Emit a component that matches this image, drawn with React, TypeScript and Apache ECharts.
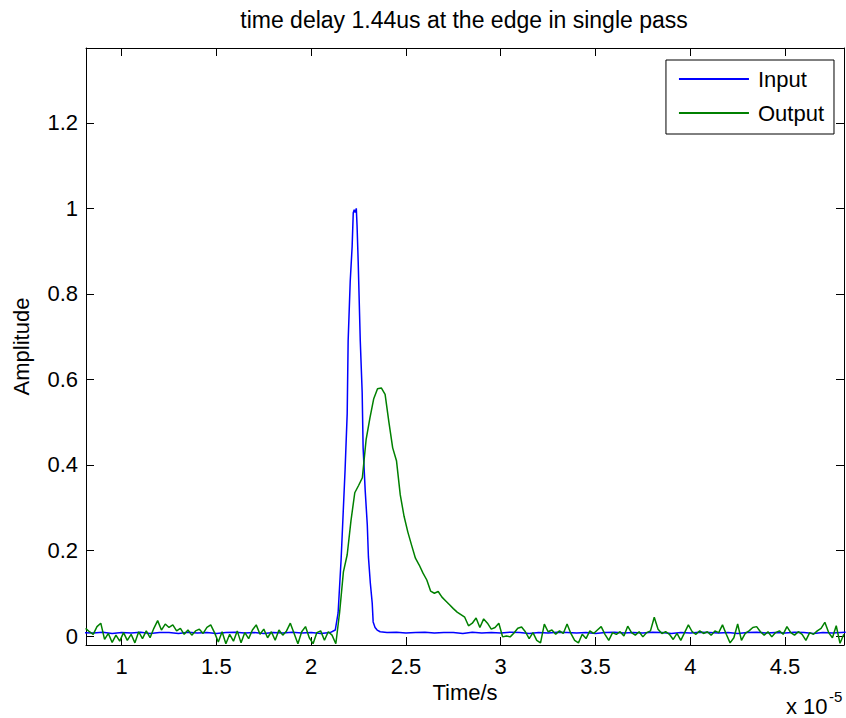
import React, { useEffect, useRef } from "react";
import * as echarts from "echarts";

// ---- data (time in units of 1e-5 s) ----
const titleText = "time delay 1.44us at the edge in single pass";
const xTickValues = [1, 1.5, 2, 2.5, 3, 3.5, 4, 4.5];
const yTickValues = [0, 0.2, 0.4, 0.6, 0.8, 1, 1.2];
const xMin = 0.812;
const xMax = 4.811;
const yMin = -0.021;
const yMax = 1.375;

// Input pulse samples [time, amplitude]
const inputPoints: [number, number][] = [
  [0.80, 0.008], [0.85, 0.007], [0.90, 0.009], [0.95, 0.006], [1.00, 0.008],
  [1.05, 0.007], [1.10, 0.009], [1.15, 0.006], [1.20, 0.008], [1.25, 0.008],
  [1.30, 0.006], [1.35, 0.009], [1.40, 0.007], [1.45, 0.008], [1.50, 0.006],
  [1.55, 0.008], [1.60, 0.009], [1.65, 0.007], [1.70, 0.008], [1.75, 0.006],
  [1.80, 0.008], [1.85, 0.007], [1.90, 0.009], [1.95, 0.007], [2.00, 0.008],
  [2.05, 0.006], [2.10, 0.008], [2.127, 0.014], [2.142, 0.054], [2.158, 0.18],
  [2.169, 0.29], [2.179, 0.39], [2.19, 0.52], [2.195, 0.69], [2.206, 0.83],
  [2.216, 0.91], [2.222, 0.99], [2.227, 0.997], [2.232, 0.99], [2.238, 1.0],
  [2.242, 0.96], [2.248, 0.875], [2.259, 0.69], [2.269, 0.57], [2.274, 0.44],
  [2.285, 0.34], [2.296, 0.26], [2.302, 0.185], [2.312, 0.124], [2.322, 0.077],
  [2.327, 0.033], [2.337, 0.02], [2.348, 0.014], [2.364, 0.01], [2.40, 0.008],
  [2.45, 0.009], [2.50, 0.007], [2.55, 0.008], [2.60, 0.009], [2.65, 0.007],
  [2.70, 0.008], [2.75, 0.008], [2.80, 0.006], [2.85, 0.009], [2.90, 0.007],
  [2.95, 0.008], [3.00, 0.007], [3.05, 0.009], [3.10, 0.008], [3.15, 0.006],
  [3.20, 0.008], [3.25, 0.007], [3.30, 0.009], [3.35, 0.008], [3.40, 0.007],
  [3.45, 0.008], [3.50, 0.006], [3.55, 0.008], [3.60, 0.009], [3.65, 0.007],
  [3.70, 0.008], [3.75, 0.007], [3.80, 0.009], [3.85, 0.008], [3.90, 0.006],
  [3.95, 0.008], [4.00, 0.007], [4.05, 0.009], [4.10, 0.008], [4.15, 0.007],
  [4.20, 0.008], [4.25, 0.006], [4.30, 0.008], [4.35, 0.009], [4.40, 0.007],
  [4.45, 0.008], [4.50, 0.007], [4.55, 0.009], [4.60, 0.008], [4.65, 0.006],
  [4.70, 0.008], [4.75, 0.007], [4.82, 0.009],
];

// Output pulse: uniform sampling starting at outputT0 with step outputDt
const outputT0 = 0.81;
const outputDt = 0.02;
const outputAmp: number[] = [
  /* 0.81 */ 0.018, 0.010, 0.004, 0.022, 0.030, -0.008, 0.006, -0.015, 0.002, -0.012,
  /* 1.01 */ 0.008, -0.010, 0.004, -0.016, 0.010, -0.006, 0.012, -0.004, 0.018, 0.036,
  /* 1.21 */ 0.014, 0.028, 0.020, 0.026, 0.012, 0.018, 0.004, 0.014, 0.002, 0.012,
  /* 1.41 */ 0.016, 0.006, 0.020, 0.026, 0.008, -0.014, 0.010, -0.018, 0.004, -0.012,
  /* 1.61 */ 0.012, -0.016, 0.008, -0.006, 0.014, 0.026, 0.004, 0.016, -0.004, 0.010,
  /* 1.81 */ -0.010, 0.014, 0.002, 0.012, 0.030, 0.006, -0.018, 0.010, 0.022, -0.004,
  /* 2.01 */ -0.018, 0.008, 0.012, -0.010, 0.010, 0.002, -0.018, 0.055, 0.15, 0.19,
  /* 2.21 */ 0.27, 0.335, 0.352, 0.37, 0.46, 0.51, 0.555, 0.578, 0.58, 0.565,
  /* 2.41 */ 0.50, 0.44, 0.41, 0.33, 0.28, 0.243, 0.212, 0.182, 0.166, 0.147,
  /* 2.61 */ 0.131, 0.105, 0.100, 0.104, 0.091, 0.082, 0.073, 0.064, 0.056, 0.050,
  /* 2.81 */ 0.044, 0.024, 0.030, 0.042, 0.020, 0.040, 0.030, 0.016, 0.020, 0.030,
  /* 3.01 */ -0.002, 0.000, -0.002, 0.007, 0.018, 0.021, 0.010, -0.006, 0.008, -0.010,
  /* 3.21 */ -0.016, 0.028, 0.010, 0.014, 0.004, 0.012, 0.006, 0.028, 0.006, -0.010,
  /* 3.41 */ -0.016, 0.004, -0.006, 0.012, 0.006, 0.014, 0.022, 0.004, -0.010, 0.008,
  /* 3.61 */ 0.004, 0.010, 0.000, 0.023, 0.008, 0.002, 0.010, -0.002, 0.008, 0.012,
  /* 3.81 */ 0.044, 0.016, 0.006, 0.010, 0.004, -0.008, 0.006, -0.010, 0.008, 0.026,
  /* 4.01 */ 0.010, 0.004, 0.012, 0.006, 0.010, 0.002, 0.012, 0.008, 0.026, 0.004,
  /* 4.21 */ -0.016, -0.004, 0.028, -0.010, 0.006, 0.012, 0.020, 0.022, 0.010, 0.002,
  /* 4.41 */ 0.010, -0.002, 0.008, 0.012, 0.004, 0.022, 0.008, 0.002, 0.010, 0.004,
  /* 4.61 */ -0.010, 0.008, 0.004, 0.012, 0.018, 0.032, 0.008, -0.004, 0.024, -0.017,
  /* 4.81 */ 0.004,
];

const FONT = "'Liberation Sans', Arial, sans-serif";
const FS = 22;

export default function App() {
  const ref = useRef<HTMLDivElement>(null);
  useEffect(() => {
    if (!ref.current) return;
    const chart = echarts.init(ref.current, undefined, { renderer: "svg" });
    const outputPoints = outputAmp.map((v, i) => [
      +(outputT0 + i * outputDt).toFixed(3),
      v,
    ]);
    const axisLineStyle = { show: true, onZero: false, lineStyle: { color: "#000", width: 1 } };
    const textBase = { color: "#000", fontFamily: FONT, fontSize: FS };
    chart.setOption({
      animation: false,
      backgroundColor: "#fff",
      title: {
        text: titleText,
        left: 464,
        top: 8,
        textAlign: "center",
        padding: 0,
        textStyle: { ...textBase, fontSize: 23, fontWeight: "normal" },
      },
      legend: {
        orient: "vertical",
        right: 12,
        top: 60,
        icon: "rect",
        itemWidth: 70,
        itemHeight: 2,
        itemGap: 12,
        padding: [8, 10, 10, 13],
        borderColor: "#000",
        borderWidth: 1,
        backgroundColor: "#fff",
        textStyle: { ...textBase, padding: [0, 0, 0, 4] },
        data: ["Input", "Output"],
      },
      grid: { left: 86, right: 2, top: 48, bottom: 73, containLabel: false },
      xAxis: [
        {
          type: "value",
          position: "bottom",
          min: xMin,
          max: xMax,
          name: "Time/s",
          nameLocation: "middle",
          nameGap: 36,
          nameTextStyle: textBase,
          axisLine: axisLineStyle,
          axisTick: { show: true, inside: true, length: 8, customValues: xTickValues, lineStyle: { color: "#000" } },
          axisLabel: { ...textBase, margin: 10, customValues: xTickValues, formatter: (v: number) => String(v) },
          splitLine: { show: false },
        },
        {
          type: "value",
          position: "top",
          min: xMin,
          max: xMax,
          axisLine: axisLineStyle,
          axisTick: { show: true, inside: true, length: 8, customValues: xTickValues, lineStyle: { color: "#000" } },
          axisLabel: { show: false },
          splitLine: { show: false },
        },
      ],
      yAxis: [
        {
          type: "value",
          position: "left",
          min: yMin,
          max: yMax,
          name: "Amplitude",
          nameLocation: "middle",
          nameGap: 54,
          nameTextStyle: textBase,
          axisLine: axisLineStyle,
          axisTick: { show: true, inside: true, length: 8, customValues: yTickValues, lineStyle: { color: "#000" } },
          axisLabel: { ...textBase, margin: 8, customValues: yTickValues, formatter: (v: number) => String(v) },
          splitLine: { show: false },
        },
        {
          type: "value",
          position: "right",
          min: yMin,
          max: yMax,
          axisLine: axisLineStyle,
          axisTick: { show: true, inside: true, length: 8, customValues: yTickValues, lineStyle: { color: "#000" } },
          axisLabel: { show: false },
          splitLine: { show: false },
        },
      ],
      series: [
        {
          name: "Input",
          type: "line",
          xAxisIndex: 0,
          yAxisIndex: 0,
          data: inputPoints,
          showSymbol: false,
          symbol: "none",
          clip: true,
          color: "#0000ff",
          lineStyle: { color: "#0000ff", width: 1.5 },
        },
        {
          name: "Output",
          type: "line",
          xAxisIndex: 0,
          yAxisIndex: 0,
          data: outputPoints,
          showSymbol: false,
          symbol: "none",
          clip: true,
          color: "#008000",
          lineStyle: { color: "#008000", width: 1.5 },
        },
      ],
      graphic: [
        {
          type: "text",
          x: 786,
          y: 706,
          style: { text: "x 10", fill: "#000", font: `${FS}px ${FONT}`, textVerticalAlign: "middle" },
        },
        {
          type: "text",
          x: 829,
          y: 696,
          style: { text: "-5", fill: "#000", font: `15px ${FONT}`, textVerticalAlign: "middle" },
        },
      ],
    });
    return () => chart.dispose();
  }, []);
  return (
    <div
      ref={ref}
      style={{ position: "absolute", left: 0, top: 0, width: 846, height: 718, background: "#fff" }}
    />
  );
}
